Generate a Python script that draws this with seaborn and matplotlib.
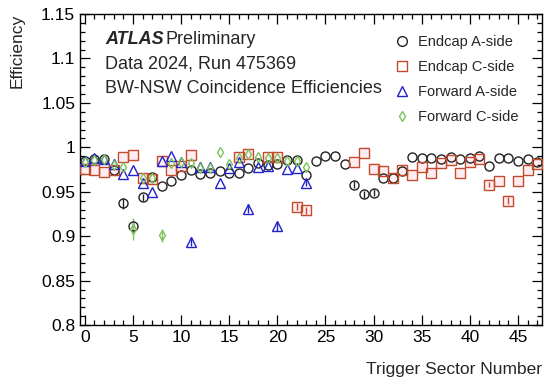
import matplotlib
matplotlib.use("Agg")
import matplotlib.pyplot as plt
from matplotlib.ticker import MultipleLocator
from matplotlib.lines import Line2D
import seaborn as sns
import numpy as np

nan = np.nan

# Efficiency per trigger sector
endcap_a = [0.985, 0.987, 0.987, 0.975, 0.937, 0.911, 0.944, 0.967, 0.956, 0.962,
            0.969, 0.975, 0.970, 0.971, 0.973, 0.971, 0.971, 0.977, 0.982, 0.980,
            0.981, 0.986, 0.986, 0.969, 0.985, 0.990, 0.990, 0.981, 0.958, 0.947,
            0.949, 0.966, 0.966, 0.973, 0.989, 0.988, 0.988, 0.987, 0.989, 0.987,
            0.988, 0.990, 0.979, 0.988, 0.988, 0.985, 0.987, 0.983]
endcap_c = [0.976, 0.975, 0.972, 0.974, 0.989, 0.991, 0.965, 0.964, 0.985, 0.974,
            0.979, 0.991, nan, nan, nan, nan, 0.989, 0.993, nan, 0.989,
            0.989, nan, 0.933, 0.929, nan, nan, nan, nan, 0.983, 0.994,
            0.976, 0.973, 0.966, 0.975, 0.969, 0.978, 0.971, 0.982, 0.986, 0.971,
            0.984, 0.987, 0.958, 0.962, 0.940, 0.962, 0.975, 0.981]
forward_a = [0.985, 0.988, 0.987, 0.981, 0.970, 0.974, 0.960, 0.950, 0.985, 0.990,
             0.984, 0.894, 0.978, 0.978, 0.960, 0.977, 0.984, 0.931, 0.978, 0.979,
             0.911, 0.976, 0.977, 0.960]
forward_c = [0.984, 0.986, 0.987, 0.980, 0.978, 0.908, 0.966, 0.966, 0.901, 0.982,
             0.984, 0.982, 0.977, 0.977, 0.995, 0.981, 0.988, 0.992, 0.989, 0.988,
             0.988, 0.985, 0.985, 0.978]

# visible statistical errors (sector: error)
err_ea = {4: 0.006, 5: 0.006, 6: 0.004, 28: 0.004, 29: 0.004, 30: 0.004}
err_ec = {22: 0.004, 23: 0.004, 42: 0.003, 44: 0.004}
err_fa = {11: 0.005, 17: 0.005, 20: 0.005, 23: 0.004}
err_fc = {5: 0.012, 8: 0.007}

labels = ["Endcap A-side", "Endcap C-side", "Forward A-side", "Forward C-side"]
colors = ["#222222", "#c44a2c", "#2323cc", "#7cc35a"]
markers = ["o", "s", "^", "d"]

sns.set_theme(style="ticks")
plt.rcParams["font.family"] = ["Liberation Sans", "DejaVu Sans"]

fig = plt.figure(figsize=(5.5, 3.82), dpi=100)
ax = fig.add_axes([0.1455, 0.149, 0.84, 0.8145])

# light pink band behind Endcap C-side points
ec = np.array(endcap_c)
sec_c = np.arange(len(ec))
ax.bar(sec_c, 0.014, bottom=ec - 0.007, width=1.0, color="#fdedf2", zorder=0)

series = [endcap_a, endcap_c, forward_a, forward_c]
errs = [err_ea, err_ec, err_fa, err_fc]
handles = []
for vals, err, lab, col, mk in zip(series, errs, labels, colors, markers):
    v = np.array(vals)
    x = np.arange(len(v))
    e = np.array([err.get(i, 0.0) for i in x])
    ms = 6.5 if mk != "d" else 5
    ax.errorbar(x, v, yerr=e, fmt=mk, mfc="none", mec=col, ecolor=col,
                ms=ms, mew=1.0, elinewidth=1.0, capsize=0, zorder=3)
    handles.append(Line2D([], [], ls="none", marker=mk, mfc="none", mec=col,
                          ms=ms + 0.5, mew=1.0))

ax.set_xlim(-0.5, 47.5)
ax.set_ylim(0.8, 1.15)
ax.xaxis.set_major_locator(MultipleLocator(5))
ax.xaxis.set_minor_locator(MultipleLocator(1))
ax.yaxis.set_major_locator(MultipleLocator(0.05))
ax.yaxis.set_minor_locator(MultipleLocator(0.01))
ax.set_yticks([0.8, 0.85, 0.9, 0.95, 1.0, 1.05, 1.1, 1.15])
ax.set_yticklabels(["0.8", "0.85", "0.9", "0.95", "1", "1.05", "1.1", "1.15"])
ax.tick_params(which="both", direction="in", top=True, right=True,
               labelsize=12.5, colors="black")
ax.tick_params(which="major", length=7, width=0.9)
ax.tick_params(which="minor", length=3.5, width=0.9)
for sp in ax.spines.values():
    sp.set_color("black")
    sp.set_linewidth(1.0)

ax.set_ylabel("Efficiency", fontsize=12.5, loc="top", labelpad=12)
ax.set_xlabel("Trigger Sector Number", fontsize=12.5, loc="right", labelpad=12)

ax.text(0.055, 0.905, "ATLAS", transform=ax.transAxes, fontsize=13,
        fontweight="bold", fontstyle="italic")
ax.text(0.185, 0.905, "Preliminary", transform=ax.transAxes, fontsize=13)
ax.text(0.055, 0.825, "Data 2024, Run 475369", transform=ax.transAxes, fontsize=13)
ax.text(0.055, 0.745, "BW-NSW Coincidence Efficiencies", transform=ax.transAxes,
        fontsize=13)

ax.legend(handles, labels, loc="upper left", bbox_to_anchor=(0.652, 0.975),
          frameon=False, fontsize=10.5, handlelength=1.0, handletextpad=0.6,
          labelspacing=0.75)

fig.savefig("out.png", dpi=100)
